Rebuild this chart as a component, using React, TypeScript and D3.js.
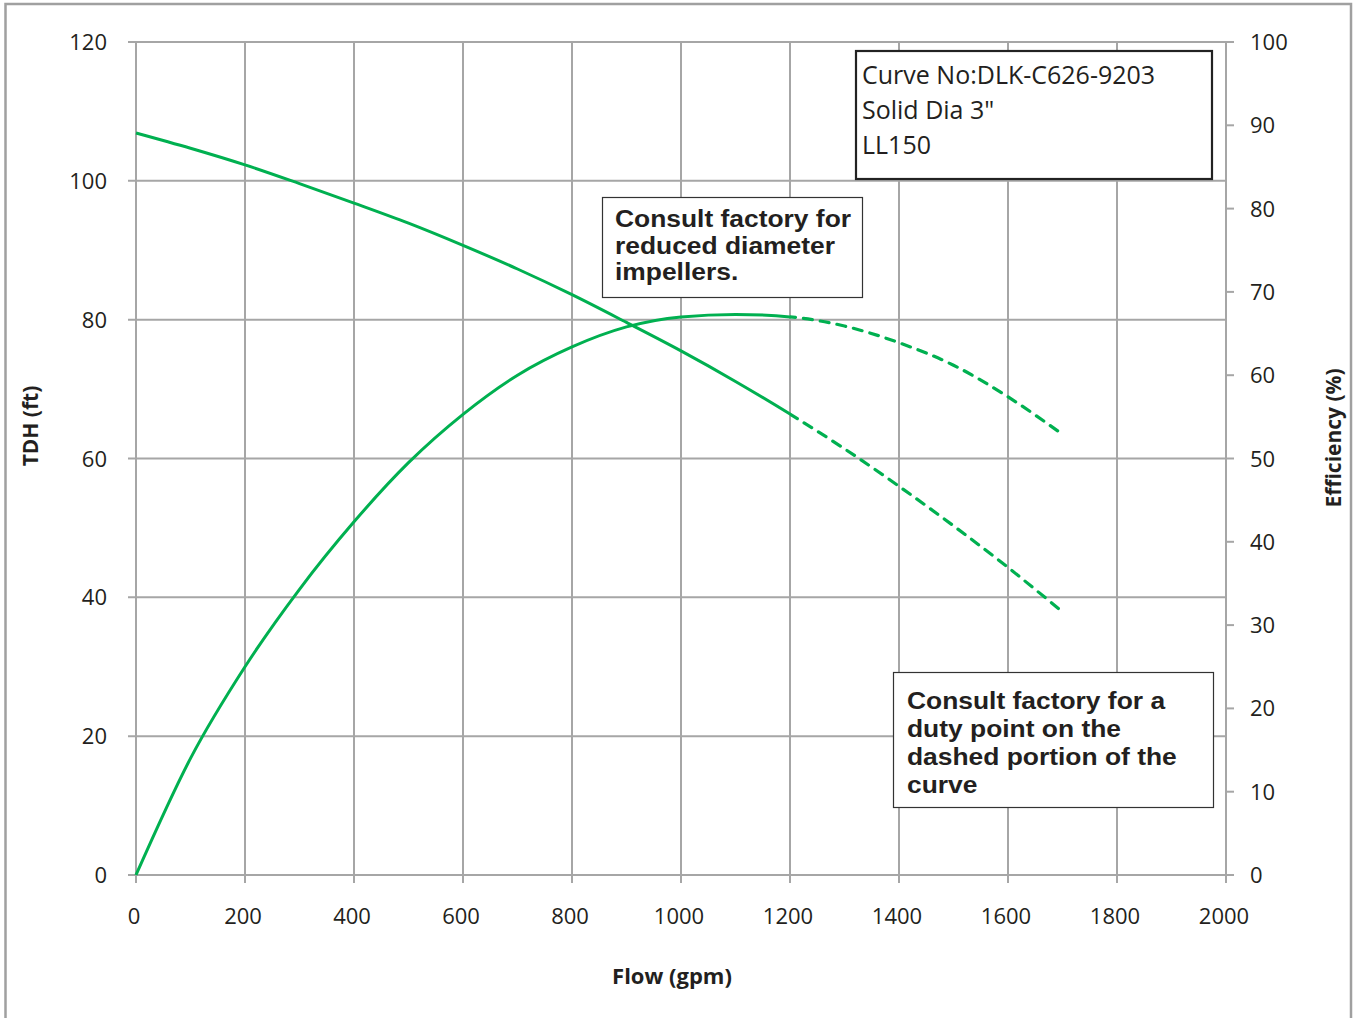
import React from "react";
import * as d3 from "d3";

const flow = [0, 100, 200, 300, 400, 500, 600, 700, 800, 900, 1000, 1100, 1200, 1300, 1400, 1500, 1600, 1700];
const head = [106.9, 104.7, 102.3, 99.6, 96.8, 93.9, 90.7, 87.3, 83.6, 79.6, 75.5, 71.1, 66.4, 61.4, 56.0, 50.3, 44.3, 37.9];
const efficiency = [0, 14.0, 25.0, 34.3, 42.4, 49.5, 55.3, 60.0, 63.4, 65.8, 67.0, 67.3, 67.0, 65.9, 63.9, 61.2, 57.4, 52.9];
const dashedFrom = 1200;

const xTicks = [0, 200, 400, 600, 800, 1000, 1200, 1400, 1600, 1800, 2000];
const leftTicks = [0, 20, 40, 60, 80, 100, 120];
const rightTicks = [0, 10, 20, 30, 40, 50, 60, 70, 80, 90, 100];

const infoLines = ["Curve No:DLK-C626-9203", "Solid Dia 3\"", "LL150"];
const note1Lines = ["Consult factory for", "reduced diameter", "impellers."];
const note2Lines = ["Consult factory for a", "duty point on the", "dashed portion of the", "curve"];

const GREEN = "#00B050";
const GRID = "#a6a6a6";
const TEXT = "#231f20";

export default function App() {
  const x = d3.scaleLinear().domain([0, 2000]).range([136, 1226]);
  const yL = d3.scaleLinear().domain([0, 120]).range([875, 42]);
  const yR = d3.scaleLinear().domain([0, 100]).range([875, 42]);

  const headPts: [number, number][] = flow.map((f, i) => [f, head[i]]);
  const effPts: [number, number][] = flow.map((f, i) => [f, efficiency[i]]);

  const headLine = d3
    .line<[number, number]>()
    .x((d) => x(d[0]))
    .y((d) => yL(d[1]))
    .curve(d3.curveMonotoneX);
  const effLine = d3
    .line<[number, number]>()
    .x((d) => x(d[0]))
    .y((d) => yR(d[1]))
    .curve(d3.curveMonotoneX);

  const xSplit = x(dashedFrom);
  const labelFont = "'Open Sans', sans-serif";
  const noteFont = "'Liberation Sans', Arial, sans-serif";

  return (
    <svg
      width={1355}
      height={1018}
      style={{ position: "absolute", left: 0, top: 0, background: "#fff" }}
    >
      <defs>
        <clipPath id="solidClip">
          <rect x={0} y={0} width={xSplit} height={1018} />
        </clipPath>
        <clipPath id="dashClip">
          <rect x={xSplit} y={0} width={1355 - xSplit} height={1018} />
        </clipPath>
      </defs>
      <rect x={0} y={0} width={1355} height={1018} fill="#fff" />
      {/* outer frame */}
      <rect x={5.5} y={4} width={1345.5} height={1030} fill="none" stroke="#a0a0a0" strokeWidth={2.5} />

      {/* horizontal gridlines */}
      {leftTicks.map((t) => (
        <line key={"h" + t} x1={128} x2={x(2000)} y1={yL(t)} y2={yL(t)} stroke={GRID} strokeWidth={2} />
      ))}
      {/* vertical gridlines */}
      {xTicks.map((t) => (
        <line key={"v" + t} x1={x(t)} x2={x(t)} y1={yL(120)} y2={883} stroke={GRID} strokeWidth={2} />
      ))}
      {/* right ticks */}
      {rightTicks.map((t) => (
        <line key={"r" + t} x1={x(2000)} x2={x(2000) + 8} y1={yR(t)} y2={yR(t)} stroke={GRID} strokeWidth={2} />
      ))}

      {/* tick labels */}
      {leftTicks.map((t) => (
        <text key={"lt" + t} x={107} y={yL(t) + 8} textAnchor="end" fontFamily={labelFont} fontSize={22} fill={TEXT}>
          {t}
        </text>
      ))}
      {rightTicks.map((t) => (
        <text key={"rt" + t} x={1250} y={yR(t) + 8} textAnchor="start" fontFamily={labelFont} fontSize={22} fill={TEXT}>
          {t}
        </text>
      ))}
      {xTicks.map((t) => (
        <text key={"xt" + t} x={x(t) - 2} y={924} textAnchor="middle" fontFamily={labelFont} fontSize={22} fill={TEXT}>
          {t}
        </text>
      ))}

      {/* axis titles */}
      <text x={672} y={984} textAnchor="middle" fontFamily={labelFont} fontWeight={700} fontSize={22} fill={TEXT}>
        Flow (gpm)
      </text>
      <text
        transform={`translate(38,426) rotate(-90)`}
        textAnchor="middle"
        fontFamily={labelFont}
        fontWeight={700}
        fontSize={21}
        fill={TEXT}
      >
        TDH (ft)
      </text>
      <text
        transform={`translate(1341,438) rotate(-90)`}
        textAnchor="middle"
        fontFamily={labelFont}
        fontWeight={700}
        fontSize={21}
        fill={TEXT}
      >
        Efficiency (%)
      </text>

      {/* curves */}
      <g clipPath="url(#solidClip)" fill="none" stroke={GREEN} strokeWidth={3}>
        <path d={headLine(headPts) || ""} />
        <path d={effLine(effPts) || ""} />
      </g>
      <g clipPath="url(#dashClip)" fill="none" stroke={GREEN} strokeWidth={3.2} strokeDasharray="9 8" strokeLinecap="round">
        <path d={headLine(headPts) || ""} />
        <path d={effLine(effPts) || ""} />
      </g>

      {/* info box */}
      <rect x={856} y={51} width={356} height={128} fill="#fff" stroke="#222" strokeWidth={2.2} />
      {infoLines.map((s, i) => (
        <text key={"info" + i} x={862} y={84 + i * 35} fontFamily={labelFont} fontSize={25} fill={TEXT}>
          {s}
        </text>
      ))}

      {/* note 1 */}
      <rect x={602.5} y={197.5} width={260} height={100} fill="#fff" stroke="#333" strokeWidth={1.2} />
      {note1Lines.map((s, i) => (
        <text
          key={"n1" + i}
          transform={`translate(615,${227 + i * 26.5}) scale(1.1,1)`}
          fontFamily={noteFont}
          fontWeight={700}
          fontSize={24}
          fill={TEXT}
        >
          {s}
        </text>
      ))}

      {/* note 2 */}
      <rect x={893.5} y={672.5} width={320} height={135} fill="#fff" stroke="#333" strokeWidth={1.2} />
      {note2Lines.map((s, i) => (
        <text
          key={"n2" + i}
          transform={`translate(907,${709 + i * 28}) scale(1.1,1)`}
          fontFamily={noteFont}
          fontWeight={700}
          fontSize={24}
          fill={TEXT}
        >
          {s}
        </text>
      ))}
    </svg>
  );
}
